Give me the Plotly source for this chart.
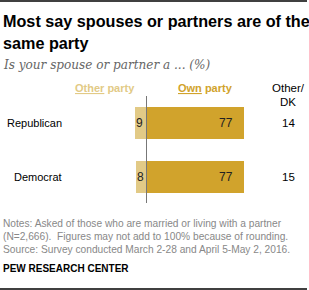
import plotly.graph_objects as go

categories = ["Republican", "Democrat"]
other_party = [9, 8]
own_party = [77, 77]
other_dk = [14, 15]

W, H = 309, 290
def px(x): return x / W
def py(y): return 1 - y / H

gold = "#d1a32c"
light = "#e2ca86"
FONT = "Liberation Sans, Arial"

fig = go.Figure()
fig.add_trace(go.Bar(
    y=categories, x=[-v for v in other_party], orientation="h",
    marker=dict(color=light, line=dict(width=0)), width=0.6,
    textposition="none", hoverinfo="skip",
))
fig.add_trace(go.Bar(
    y=categories, x=own_party, orientation="h",
    marker=dict(color=gold, line=dict(width=0)), width=0.6,
    textposition="none", hoverinfo="skip",
))

ppu = 97.5 / 77
x0 = -146.5 / ppu
x1 = x0 + W / ppu
cat_px = 54.0
r1 = -123 / cat_px
r0 = r1 + H / cat_px

fig.update_layout(
    width=W, height=H, margin=dict(l=0, r=0, t=0, b=0),
    paper_bgcolor="white", plot_bgcolor="white",
    barmode="relative", showlegend=False, bargap=0,
    xaxis=dict(range=[x0, x1], visible=False, fixedrange=True),
    yaxis=dict(type="category", range=[r0, r1], visible=False, fixedrange=True),
)

anns = []
def ann(x, y, text, size, color="#000", anchor="left", family=FONT, yanchor="middle"):
    anns.append(dict(x=px(x), y=py(y), xref="paper", yref="paper", text=text,
                     showarrow=False, xanchor=anchor, yanchor=yanchor,
                     font=dict(size=size, color=color, family=family)))

ann(1, 21, "<b>Most say spouses or partners are of the</b>", 16.2)
ann(1, 43, "<b>same party</b>", 16.2)
ann(1, 64, "<i>Is your spouse or partner a ... (%)</i>", 13.4, "#666", family="DejaVu Serif Condensed, Georgia, serif")
ann(137, 88, "<b><u>Other</u> party</b>", 11, light, anchor="right")
ann(235, 88, "<b><u>Own</u> party</b>", 11, gold, anchor="right")
ann(288, 88, "Other/", 11.5, "#000", anchor="center")
ann(288, 102, "DK", 11.5, "#000", anchor="center")
for i, c in enumerate(categories):
    yy = 123 + 54 * i
    ann(64, yy, c, 11, "#000", anchor="right")
    ann(288, yy, str(other_dk[i]), 11.5, "#000", anchor="center")
    anns.append(dict(x=-other_party[i], y=c, xref="x", yref="y", text=str(other_party[i]),
                     showarrow=False, xanchor="left", yanchor="middle", xshift=-1,
                     font=dict(size=12, color="#222", family=FONT)))
    anns.append(dict(x=own_party[i], y=c, xref="x", yref="y", text=str(own_party[i]),
                     showarrow=False, xanchor="right", yanchor="middle", xshift=-9,
                     font=dict(size=12, color="#222", family=FONT)))
notes = ["Notes: Asked of those who are married or living with a partner",
         "(N=2,666).  Figures may not add to 100% because of rounding.",
         "Source: Survey conducted March 2-28 and April 5-May 2, 2016."]
for i, t in enumerate(notes):
    ann(1, 223 + 13.5 * i, t, 10.2, "#888")
ann(1, 268, "<b>PEW RESEARCH CENTER</b>", 10, "#000")
fig.update_layout(annotations=anns)

fig.add_shape(type="line", xref="paper", yref="paper", x0=0, x1=px(307), y0=py(1), y1=py(1),
              line=dict(color="#000", width=1.5))
fig.add_shape(type="line", xref="paper", yref="paper", x0=0, x1=px(307), y0=py(289), y1=py(289),
              line=dict(color="#000", width=1.5))
fig.add_shape(type="line", xref="x", yref="paper", x0=0, x1=0, y0=py(96), y1=py(203),
              line=dict(color="#777", width=1))

fig.write_html("out.html")
